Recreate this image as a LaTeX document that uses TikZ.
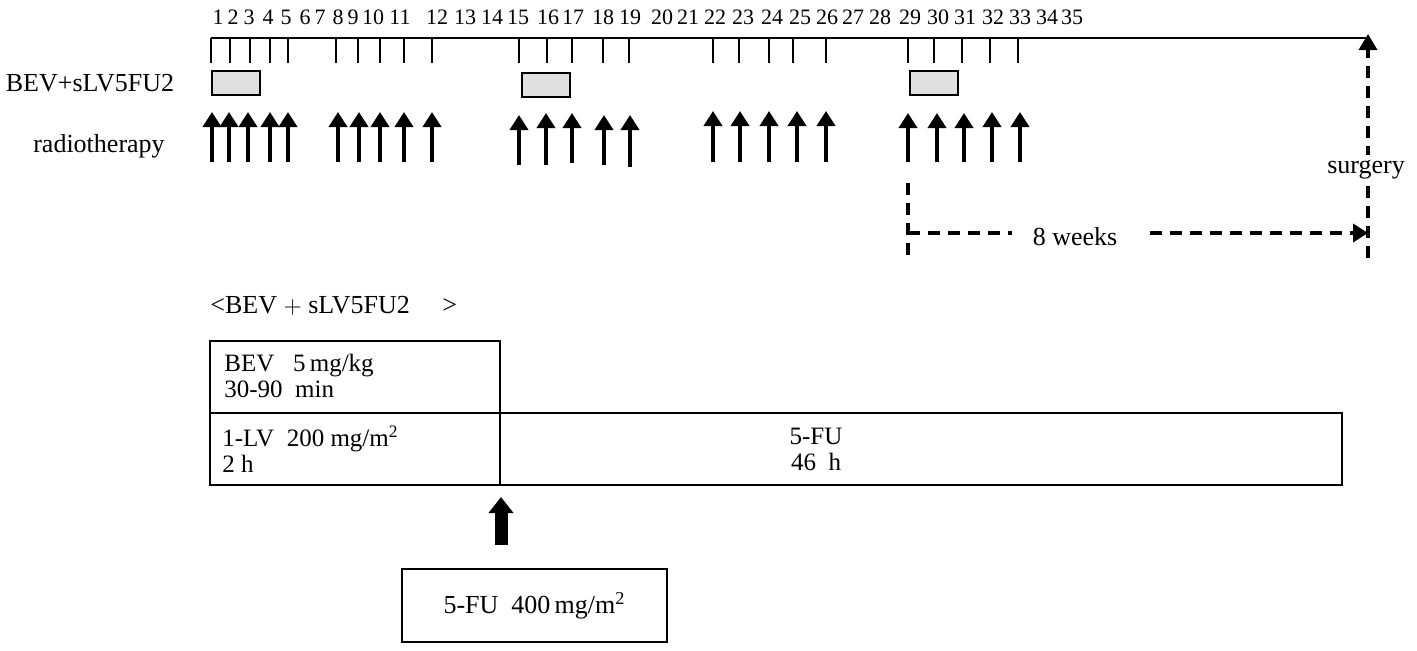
\documentclass[tikz,border=0pt]{standalone}
\usepackage{fontspec}
\setmainfont{Liberation Serif}
\usetikzlibrary{arrows.meta}
\begin{document}
\begin{tikzpicture}[x=0.5pt,y=-0.5pt,
  num/.style={inner sep=0pt, font=\fontsize{11}{13}\selectfont},
  lab/.style={inner sep=0pt, font=\fontsize{13}{15}\selectfont},
  btxt/.style={inner sep=0pt, anchor=west, align=left, font=\fontsize{12.5}{13}\selectfont},
  tickline/.style={line width=1pt},
  gbox/.style={draw, line width=1.2pt, fill=black!12},
  rt/.style={line width=2pt, -{Triangle[width=9pt,length=7.5pt]}},
  dsh/.style={line width=1.8pt, dash pattern=on 6pt off 4pt},
  boxline/.style={draw, line width=1pt, inner sep=0pt},
]
\useasboundingbox (0,0) rectangle (1417,650);

% timeline
\coordinate (t0) at (211,38);
\coordinate (tend) at (1367,38);
\draw[line width=1.2pt] (t0) -- (tend);
\foreach \x in {211,230,250,270,288,336,358,380,404,432,519,547,572,603,629,713,739,769,793,826,908,934,962,990,1018}
  \draw[tickline] (\x,38) -- (\x,63);
\foreach \x/\n in {218/1,233/2,249/3,268/4,286/5,305/6,320/7,338/8,353/9,373/10,400/11,437/12,465/13,492/14,518/15,548/16,573/17,603/18,630/19,662/20,688/21,715/22,743/23,772/24,800/25,827/26,853/27,880/28,910/29,938/30,965/31,993/32,1020/33,1047/34,1072/35}
  \node[num] (n\n) at (\x,17) {\n};

% labels
\node[lab] (lbev) at (90,83) {BEV+sLV5FU2};
\node[lab] (lrt) at (99,146) {radiotherapy};

% grey boxes
\node[gbox, minimum width=24pt, minimum height=12pt, inner sep=0pt] (g1) at (236,83) {};
\node[gbox, minimum width=24pt, minimum height=12pt, inner sep=0pt] (g2) at (546,85) {};
\node[gbox, minimum width=24pt, minimum height=12pt, inner sep=0pt] (g3) at (934,83) {};

% radiotherapy arrows
\foreach \x/\t/\b in {212/112/162,229/112/162,248/112/162,270/112/162,288/112/162,
  338/112/162,359/112/162,380/112/162,404/112/162,432/112/162,
  519/115/165,546/113/165,572/113/163,604/115/165,630/115/167,
  713/111/162,740/111/162,769/111/162,797/111/162,826/111/162,
  908/113/162,937/113/162,964/113/162,992/112/162,1020/112/162}{
  \coordinate (ra\x) at (\x,\b);
  \coordinate (rb\x) at (\x,\t);
  \draw[rt] (ra\x) -- (rb\x);
}

% surgery
\coordinate (sbot) at (1368,258);
\coordinate (stop) at (1368,34);
\draw[dsh, -{Triangle[width=9pt,length=8pt]}] (sbot) -- (stop);
\node[lab, fill=white, inner sep=3pt] (surg) at (1366,170) {surgery};

% 8 weeks
\coordinate (v0) at (908,183);
\coordinate (v1) at (908,258);
\draw[dsh] (v0) -- (v1);
\coordinate (w0) at (908,233);
\coordinate (w1) at (1012,233);
\coordinate (w2) at (1150,233);
\coordinate (w3) at (1368,233);
\draw[dsh] (w0) -- (w1);
\draw[dsh, -{Triangle[width=9pt,length=7.5pt]}] (w2) -- (w3);
\node[lab] (weeks) at (1075,237) {8 weeks};

% regimen
\node[lab, anchor=west] (reg) at (210,306) {<BEV $+$ sLV5FU2\quad\ >};
\node[boxline, anchor=north west, minimum width=145pt, minimum height=36pt] (bev) at (209,340) {};
\node[boxline, anchor=north west, minimum width=145pt, minimum height=36pt] (lv) at (209,412) {};
\node[boxline, anchor=north west, minimum width=421pt, minimum height=36pt] (fu) at (499,412) {};
\node[btxt] (tbev) at (224,376) {BEV\ \ \ 5\,mg/kg\\30-90\ \ min};
\node[btxt] (tlv) at (222,449) {1-LV\ \ 200 mg/m\textsuperscript{2}\\2\ h};
\node[btxt, align=center, anchor=center] (tfu) at (816,449) {5-FU\\46\ \ h};

\coordinate (fa0) at (501,545);
\coordinate (fa1) at (501,497);
\draw[line width=6.5pt, -{Triangle[width=12pt,length=8pt]}] (fa0) -- (fa1);
\node[boxline, anchor=north west, minimum width=132.5pt, minimum height=36.5pt, font=\fontsize{13}{15}\selectfont] (fu400) at (401,568) {5-FU\ \ 400\,mg/m\textsuperscript{2}};
\end{tikzpicture}
\end{document}
